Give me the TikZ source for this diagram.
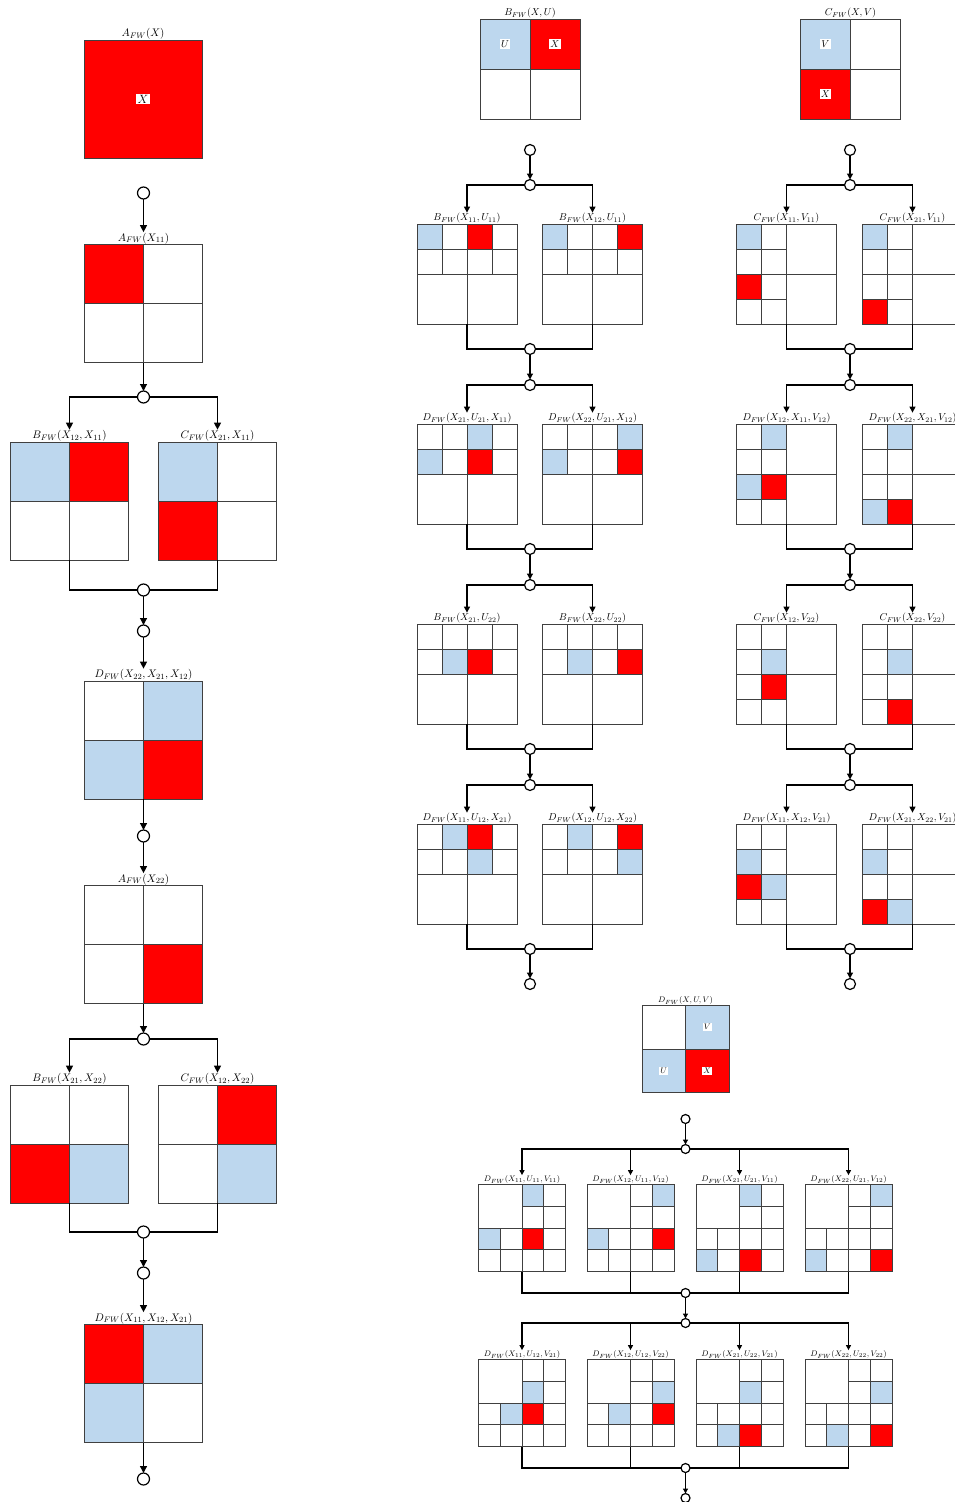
\documentclass[tikz,border=0pt]{standalone}
\usetikzlibrary{arrows.meta}

\definecolor{xred}{RGB}{255,0,0}
\definecolor{ublue}{RGB}{189,215,238}

\tikzset{
  blk/.style={minimum size=#1pt, inner sep=0pt, outer sep=0pt},
  lbl/.style={font=\fontsize{#1}{#1}\selectfont, inner sep=0.5pt},
  tag/.style={fill=white, inner sep=1.2pt, font=\fontsize{#1}{#1}\selectfont},
  gridline/.style={draw=black!75, line width=0.8pt},
  junc/.style={circle, draw, fill=white, inner sep=0pt, outer sep=0pt,
    minimum size=#1pt, line width=1.2pt},
  junc/.default=11,
  wire/.style={line width=1.2pt},
  flow/.style={line width=1.2pt, -{Triangle[length=#1pt, width=#1pt]}},
  flow/.default=6,
}

% fill cells: name, cell size, col/row/colour list
\newcommand{\cells}[3]{%
  \foreach \cx/\ry/\cf in {#3}
    \fill[\cf] (#1.north west) ++(\cx*#2,\ry*#2) rectangle ++(#2,#2);}

% 2x2 block: name, x, y, size, label size, label, cells
\newcommand{\quadgrid}[7]{%
  \node[blk=#4, label={[lbl=#5, name=#1t]above:$#6$}] (#1) at (#2,#3) {};
  \cells{#1}{#4/2}{#7}
  \draw[gridline] (#1.north west) rectangle (#1.south east)
    (#1.north) -- (#1.south) (#1.west) -- (#1.east);}

% top half split in 2x4
\newcommand{\rowgrid}[5]{%
  \node[blk=100, label={[lbl=10, name=#1t]above:$#4$}] (#1) at (#2,#3) {};
  \cells{#1}{25}{#5}
  \draw[gridline] (#1.north west) rectangle (#1.south east)
    (#1.north) -- (#1.south) (#1.west) -- (#1.east)
    (#1.north west) ++(0,25) -- ++(100,0)
    (#1.north west) ++(25,0) -- ++(0,50)
    (#1.north west) ++(75,0) -- ++(0,50);}

% left half split in 4x2
\newcommand{\colgrid}[5]{%
  \node[blk=100, label={[lbl=10, name=#1t]above:$#4$}] (#1) at (#2,#3) {};
  \cells{#1}{25}{#5}
  \draw[gridline] (#1.north west) rectangle (#1.south east)
    (#1.north) -- (#1.south) (#1.west) -- (#1.east)
    (#1.north west) ++(25,0) -- ++(0,100)
    (#1.north west) ++(0,25) -- ++(50,0)
    (#1.north west) ++(0,75) -- ++(50,0);}

% top right quarter and bottom half split
\newcommand{\cornergrid}[5]{%
  \node[blk=87, label={[lbl=8, name=#1t]above:$#4$}] (#1) at (#2,#3) {};
  \cells{#1}{21.75}{#5}
  \draw[gridline] (#1.north west) rectangle (#1.south east)
    (#1.north) -- (#1.south) (#1.west) -- (#1.east)
    (#1.north west) ++(65.25,0) -- ++(0,87)
    (#1.north west) ++(43.5,21.75) -- ++(43.5,0)
    (#1.north west) ++(0,65.25) -- ++(87,0)
    (#1.north west) ++(21.75,43.5) -- ++(0,43.5);}

\begin{document}
\begin{tikzpicture}[x=1pt, y=-1pt]
  \fill[white] (0,0) rectangle (955,1502);
  \useasboundingbox (0,0) rectangle (955,1502);

  % left column
  \node[blk=118, fill=xred, gridline, label={[lbl=11]above:$A_{FW}(X)$}] (a0) at (143,99) {};
  \node[tag=12] at (a0) {$X$};
  \quadgrid{a1}{143.5}{303.5}{118}{11}{A_{FW}(X_{11})}{0/0/xred}
  \quadgrid{lb1}{69.5}{501}{118}{11}{B_{FW}(X_{12},X_{11})}{0/0/ublue,1/0/xred}
  \quadgrid{lc1}{217.5}{501}{118}{11}{C_{FW}(X_{21},X_{11})}{0/0/ublue,0/1/xred}
  \quadgrid{ld1}{143.5}{740}{118}{11}{D_{FW}(X_{22},X_{21},X_{12})}{1/0/ublue,0/1/ublue,1/1/xred}
  \quadgrid{a2}{143.5}{944.5}{118}{11}{A_{FW}(X_{22})}{1/1/xred}
  \quadgrid{lb2}{69.5}{1144}{118}{11}{B_{FW}(X_{21},X_{22})}{0/1/xred,1/1/ublue}
  \quadgrid{lc2}{217.5}{1144}{118}{11}{C_{FW}(X_{12},X_{22})}{1/0/xred,1/1/ublue}
  \quadgrid{ld2}{143.5}{1383.5}{118}{11}{D_{FW}(X_{11},X_{12},X_{21})}{0/0/xred,1/0/ublue,0/1/ublue}

  \node[junc=12] (lj1) at (143.5,193) {};
  \node[junc=12] (lj2) at (143.5,397) {};
  \node[junc=12] (lj3) at (143.5,590) {};
  \node[junc=12] (lj4) at (143.5,631) {};
  \node[junc=12] (lj5) at (143.5,836) {};
  \node[junc=12] (lj6) at (143.5,1039) {};
  \node[junc=12] (lj7) at (143.5,1232) {};
  \node[junc=12] (lj8) at (143.5,1273) {};
  \node[junc=12] (lj9) at (143.5,1479) {};

  \draw[flow=7] (lj1) -- (a1t);
  \draw[flow=7] (a1) -- (lj2);
  \draw[flow=7] (lj2) -| (lb1t);
  \draw[flow=7] (lj2) -| (lc1t);
  \draw[wire] (lb1) |- (lj3);
  \draw[wire] (lc1) |- (lj3);
  \draw[flow=7] (lj3) -- (lj4);
  \draw[flow=7] (lj4) -- (ld1t);
  \draw[flow=7] (ld1) -- (lj5);
  \draw[flow=7] (lj5) -- (a2t);
  \draw[flow=7] (a2) -- (lj6);
  \draw[flow=7] (lj6) -| (lb2t);
  \draw[flow=7] (lj6) -| (lc2t);
  \draw[wire] (lb2) |- (lj7);
  \draw[wire] (lc2) |- (lj7);
  \draw[flow=7] (lj7) -- (lj8);
  \draw[flow=7] (lj8) -- (ld2t);
  \draw[flow=7] (ld2) -- (lj9);

  % middle column
  \quadgrid{bq}{530}{69}{100}{10}{B_{FW}(X,U)}{0/0/ublue,1/0/xred}
  \path (bq.north west) +(25,25) node[tag=10] {$U$} +(75,25) node[tag=10] {$X$};
  \rowgrid{b11}{467}{274}{B_{FW}(X_{11},U_{11})}{0/0/ublue,2/0/xred}
  \rowgrid{b12}{592.5}{274}{B_{FW}(X_{12},U_{11})}{0/0/ublue,3/0/xred}
  \rowgrid{b21}{467}{474}{D_{FW}(X_{21},U_{21},X_{11})}{2/0/ublue,0/1/ublue,2/1/xred}
  \rowgrid{b22}{592.5}{474}{D_{FW}(X_{22},U_{21},X_{12})}{3/0/ublue,0/1/ublue,3/1/xred}
  \rowgrid{b31}{467}{674}{B_{FW}(X_{21},U_{22})}{1/1/ublue,2/1/xred}
  \rowgrid{b32}{592.5}{674}{B_{FW}(X_{22},U_{22})}{1/1/ublue,3/1/xred}
  \rowgrid{b41}{467}{874}{D_{FW}(X_{11},U_{12},X_{21})}{1/0/ublue,2/0/xred,2/1/ublue}
  \rowgrid{b42}{592.5}{874}{D_{FW}(X_{12},U_{12},X_{22})}{1/0/ublue,3/0/xred,3/1/ublue}

  % right column
  \quadgrid{cq}{850.5}{69}{100}{10}{C_{FW}(X,V)}{0/0/ublue,0/1/xred}
  \path (cq.north west) +(25,25) node[tag=10] {$V$} +(25,75) node[tag=10] {$X$};
  \colgrid{c11}{786.5}{274}{C_{FW}(X_{11},V_{11})}{0/0/ublue,0/2/xred}
  \colgrid{c12}{912.5}{274}{C_{FW}(X_{21},V_{11})}{0/0/ublue,0/3/xred}
  \colgrid{c21}{786.5}{474}{D_{FW}(X_{12},X_{11},V_{12})}{1/0/ublue,0/2/ublue,1/2/xred}
  \colgrid{c22}{912.5}{474}{D_{FW}(X_{22},X_{21},V_{12})}{1/0/ublue,0/3/ublue,1/3/xred}
  \colgrid{c31}{786.5}{674}{C_{FW}(X_{12},V_{22})}{1/1/ublue,1/2/xred}
  \colgrid{c32}{912.5}{674}{C_{FW}(X_{22},V_{22})}{1/1/ublue,1/3/xred}
  \colgrid{c41}{786.5}{874}{D_{FW}(X_{11},X_{12},V_{21})}{0/1/ublue,0/2/xred,1/2/ublue}
  \colgrid{c42}{912.5}{874}{D_{FW}(X_{21},X_{22},V_{21})}{0/1/ublue,0/3/xred,1/3/ublue}

  \foreach \c/\x in {b/530,c/850} {
    \node[junc] (\c t0) at (\x,150) {};
    \node[junc] (\c t5) at (\x,984) {};
    \foreach \k in {1,...,4} {
      \node[junc] (\c t\k) at (\x,{185+200*(\k-1)}) {};
      \node[junc] (\c s\k) at (\x,{349+200*(\k-1)}) {};
    }
    \draw[flow] (\c t0) -- (\c t1);
    \foreach \k [evaluate=\k as \nx using int(\k+1)] in {1,...,4} {
      \draw[flow] (\c t\k) -| (\c\k1t);
      \draw[flow] (\c t\k) -| (\c\k2t);
      \draw[wire] (\c\k1) |- (\c s\k);
      \draw[wire] (\c\k2) |- (\c s\k);
      \draw[flow] (\c s\k) -- (\c t\nx);
    }
  }

  % bottom block
  \quadgrid{dq}{685.5}{1049}{87}{8}{D_{FW}(X,U,V)}{1/0/ublue,0/1/ublue,1/1/xred}
  \path (dq.north west) +(65.25,21.75) node[tag=8] {$V$}
    +(21.75,65.25) node[tag=8] {$U$} +(65.25,65.25) node[tag=8] {$X$};
  \cornergrid{d1}{522}{1228}{D_{FW}(X_{11},U_{11},V_{11})}{2/0/ublue,0/2/ublue,2/2/xred}
  \cornergrid{d2}{630.5}{1228}{D_{FW}(X_{12},U_{11},V_{12})}{3/0/ublue,0/2/ublue,3/2/xred}
  \cornergrid{d3}{739.5}{1228}{D_{FW}(X_{21},U_{21},V_{11})}{2/0/ublue,0/3/ublue,2/3/xred}
  \cornergrid{d4}{848.5}{1228}{D_{FW}(X_{22},U_{21},V_{12})}{3/0/ublue,0/3/ublue,3/3/xred}
  \cornergrid{e1}{522}{1403}{D_{FW}(X_{11},U_{12},V_{21})}{2/1/ublue,1/2/ublue,2/2/xred}
  \cornergrid{e2}{630.5}{1403}{D_{FW}(X_{12},U_{12},V_{22})}{3/1/ublue,1/2/ublue,3/2/xred}
  \cornergrid{e3}{739.5}{1403}{D_{FW}(X_{21},U_{22},V_{21})}{2/1/ublue,1/3/ublue,2/3/xred}
  \cornergrid{e4}{848.5}{1403}{D_{FW}(X_{22},U_{22},V_{22})}{3/1/ublue,1/3/ublue,3/3/xred}

  \node[junc=9] (n1) at (685.5,1119) {};
  \node[junc=9] (n2) at (685.5,1149) {};
  \node[junc=9] (n3) at (685.5,1293) {};
  \node[junc=9] (n4) at (685.5,1323) {};
  \node[junc=9] (n5) at (685.5,1468) {};
  \node[junc=9] (n6) at (685.5,1498) {};

  \draw[flow=5] (n1) -- (n2);
  \draw[flow=5] (n3) -- (n4);
  \draw[flow=5] (n5) -- (n6);
  \foreach \g in {d1,d2,d3,d4} {
    \draw[flow=5] (n2) -| (\g t);
    \draw[wire] (\g) |- (n3);
  }
  \foreach \g in {e1,e2,e3,e4} {
    \draw[flow=5] (n4) -| (\g t);
    \draw[wire] (\g) |- (n5);
  }
\end{tikzpicture}
\end{document}
